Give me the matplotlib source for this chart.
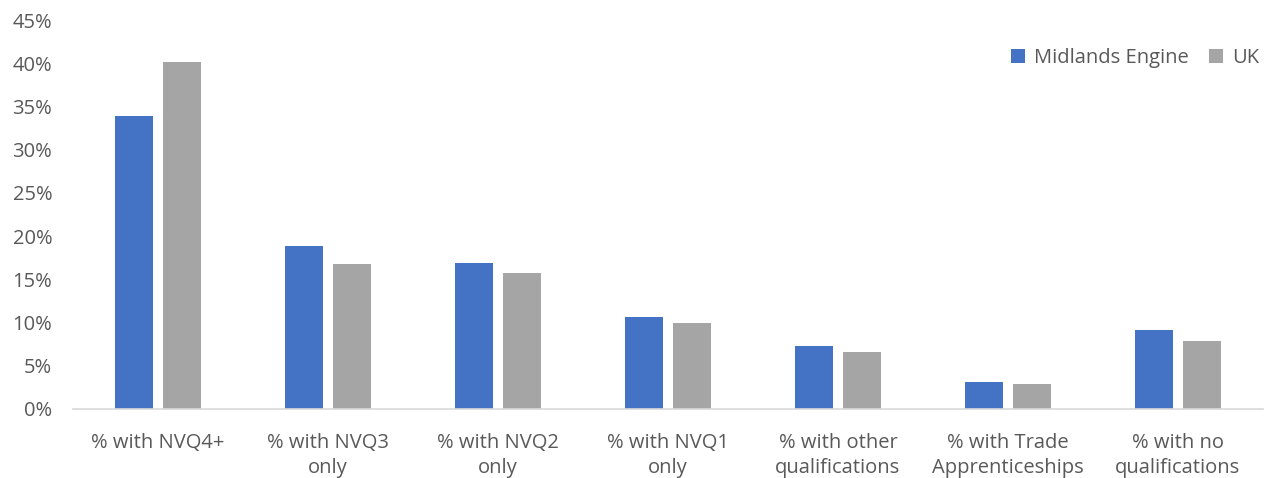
import matplotlib.pyplot as plt
import numpy as np
from matplotlib.ticker import PercentFormatter

plt.rcParams['font.family'] = ['Open Sans', 'DejaVu Sans']

categories = ['% with NVQ4+', '% with NVQ3\nonly', '% with NVQ2\nonly', '% with NVQ1\nonly',
              '% with other\nqualifications', '% with Trade\nApprenticeships', '% with no\nqualifications']
midlands = [33.9, 18.8, 16.9, 10.6, 7.3, 3.1, 9.1]
uk = [40.1, 16.8, 15.7, 9.9, 6.6, 2.9, 7.9]

blue = '#4472C4'
grey = '#A5A5A5'
txt = '#595959'

fig = plt.figure(figsize=(12.66, 4.78), dpi=100)
ax = fig.add_axes([73 / 1266, 69 / 478, 1190 / 1266, 389 / 478])

x = np.arange(len(categories))
w = 0.224
ax.bar(x - 0.142, midlands, w, color=blue, label='Midlands Engine')
ax.bar(x + 0.142, uk, w, color=grey, label='UK')

ax.set_xlim(-0.5, len(categories) - 0.5)
ax.set_ylim(0, 45)
ax.set_yticks(range(0, 46, 5))
ax.yaxis.set_major_formatter(PercentFormatter(decimals=0))
ax.set_xticks(x)
ax.set_xticklabels(categories, linespacing=1.35)

for s in ['top', 'right', 'left']:
    ax.spines[s].set_visible(False)
ax.spines['bottom'].set_color('#D9D9D9')
ax.spines['bottom'].set_linewidth(1.2)
ax.tick_params(axis='both', length=0, labelsize=14.5, colors=txt)
ax.tick_params(axis='y', pad=15)
ax.tick_params(axis='x', pad=17)

leg = ax.legend(loc='upper right', bbox_to_anchor=(1.012, 0.975), ncol=2, frameon=False,
                fontsize=14.5, handlelength=0.7, handleheight=0.7, handletextpad=0.45,
                columnspacing=1.0, labelcolor=txt)

fig.savefig('out.png', dpi=100)
